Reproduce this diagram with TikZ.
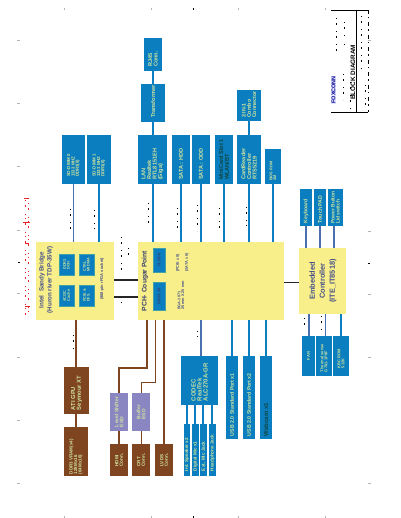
\documentclass[tikz,border=0pt]{standalone}
\usepackage{fontspec}
\setmainfont{Liberation Sans}
\definecolor{bblue}{HTML}{0A7EBF}
\definecolor{lblue}{HTML}{4A70B0}
\definecolor{yel}{HTML}{F8EF8A}
\definecolor{brn}{HTML}{7F4420}
\definecolor{prp}{HTML}{8A86C2}
\definecolor{ltxt}{HTML}{D0E4A0}
\definecolor{ytxt}{HTML}{EEDC86}
\definecolor{dtxt}{HTML}{10463F}
\definecolor{gtxt}{HTML}{454F8A}
\definecolor{tick}{HTML}{B4B4B4}
\definecolor{iedge}{HTML}{3FA0A8}
\definecolor{rednote}{HTML}{E8202A}
\tikzset{
  bbox/.style={fill=bblue},
  ibox/.style={fill=bblue,draw=iedge,line width=0.6pt},
  ybox/.style={fill=yel},
  brbox/.style={fill=brn},
  pbox/.style={fill=prp},
  rtxt/.style={inner sep=0pt,align=left,font=\bfseries\fontsize{#1}{#1}\selectfont,text=ltxt},
  rtxt/.default=5.6,
  bl/.style={bblue,line width=2pt},
  ll/.style={lblue,line width=2pt},
  tl/.style={lblue,line width=1pt},
  br/.style={brn,line width=2pt},
  brt/.style={brn,line width=1pt},
  bus/.style={black!85,line width=2pt},
  specks/.style={black,line width=0.8pt,dash pattern=on 1pt off 4pt on 2pt off 6pt},
  redspecks/.style={rednote,line width=0.9pt,dash pattern=on 1pt off 4pt on 2pt off 7pt on 1pt off 3pt},
  tk/.style={tick,line width=1pt},
}
\newcommand{\mkbox}[6]{\node[#1,inner sep=0pt,minimum width={#5-#3},minimum height={#6-#4}] (#2) at ({(#3+#5)/2},{(#4+#6)/2}) {};}
\newcommand{\rboxb}[8]{\mkbox{#1}{#2}{#3}{#4}{#5}{#6}\node[rtxt,#7,rotate=90,anchor=west] (#2t) at ([yshift=4pt]#2.south) {#8};}
\newcommand{\rboxc}[8]{\mkbox{#1}{#2}{#3}{#4}{#5}{#6}\node[rtxt,#7,rotate=90] (#2t) at (#2.center) {#8};}
\begin{document}
\begin{tikzpicture}[x=1pt,y=-1pt]
\useasboundingbox (0,0) rectangle (400,518);
\fill[white] (0,0) rectangle (400,518);
% page ticks
\foreach \t in {64,151,238,325}{\draw[tk] (\t,8) -- (\t,10); \draw[tk] (\t,515.5) -- (\t,517.5);}
\foreach \t in {41,104,167,230,293,357,420,483}{\draw[tk] (17,\t) -- (20,\t);}
\foreach \t in {41,231,294,357,483}{\draw[tk] (368,\t) -- (371,\t);}
\draw[black,line width=1pt] (193,8.5) -- (193,10) (193,515.5) -- (193,517.5) (17.5,262) -- (20,262) (368,263) -- (370,263);
% red margin note
\draw[redspecks] (25.5,200) -- (25.5,319);
\draw[redspecks] (28,203) -- (28,316);
\draw[rednote,line width=0.9pt] (24,198) -- (29,198) (23,222.5) -- (30,222.5) (25,243) -- (29,243) (25,306) -- (30,306);
% title block
\draw[black,line width=0.9pt] (331,10) -- (368,10) (356,10) -- (356,112) (331,112) -- (368,112);
\draw[black,line width=0.8pt,dash pattern=on 4pt off 3pt on 1.5pt off 4pt] (368,10) -- (368,112);
\draw[specks] (336,18) -- (336,56) (344,22) -- (344,36) (344,44) -- (344,48) (361,16) -- (361,70) (365,85) -- (365,110) (343,74) -- (343,100) (350,82) -- (350,110);
\node[inner sep=0.4pt,fill=blue!12,text=blue!55!black,font=\bfseries\fontsize{5.4}{5.4}\selectfont,rotate=90] (logo) at (333.5,90) {FOXCONN};
\node[inner sep=0pt,font=\bfseries\fontsize{6.4}{6.4}\selectfont,rotate=90,anchor=west] (ttl) at (353,100) {BLOCK DIAGRAM};
% top row
\rboxb{bbox}{rj}{144}{38}{162}{71}{}{RJ45\\Conn.}
\rboxb{bbox}{tr}{141}{84}{165}{122}{}{Transformer}
\rboxb{bbox}{lan}{138}{135}{167}{184}{}{LAN\\Realtek\\RTL8151EH\\(Giga)}
\rboxb{bbox}{hdd}{172}{135}{190}{184}{}{SATA : HDD}
\rboxb{bbox}{odd}{192}{135}{210}{184}{}{SATA : ODD}
\rboxb{bbox}{mini}{215}{135}{233}{184}{text=dtxt}{MiniCard Slot 1\\WLAN/BT}
\rboxb{bbox}{card}{237}{135}{261}{184}{}{CardReader\\Controller\\RTS5219}
\rboxb{bbox}{combo}{237}{90}{261}{121}{yshift=-1pt,rtxt=5.3}{2-IN-1\\Combo\\Connector}
\rboxb{bbox}{bios}{265}{149}{281}{184}{rtxt=3.8,yshift=-1pt}{BIOS ROM\\4M}
\rboxb{bbox}{so0}{62}{135}{85}{184}{rtxt=4.4,yshift=3pt}{SO-DIMM 0\\1333 MHZ\\DDR3(8)}
\rboxb{bbox}{so1}{87}{135}{111}{184}{rtxt=4.4,yshift=3pt}{SO-DIMM 1\\1333 MHZ\\DDR3(8)}
% yellow blocks
\mkbox{ybox}{nb}{36}{242}{114}{320}
\mkbox{ybox}{pch}{138}{242}{284}{320}
\mkbox{ybox}{ec}{299}{248}{346}{314}
\node[rtxt=6.2,text=gtxt,rotate=90,anchor=center] (nbt) at (46,280) {\fontsize{6.2}{8}\selectfont\begin{tabular}{@{}c@{}}Intel\ \ Sandy Bridge\\(Huron river TDP-35W)\end{tabular}};
\node[rtxt=4,text=gtxt,rotate=90] (nbs) at (102,279) {(988-pin rPGA socket)};
\rboxc{ibox}{ddr}{59}{254}{74}{275}{rtxt=3.8}{DDR3\\DCH}
\rboxc{ibox}{ctl}{79}{254}{94}{275}{rtxt=3.8}{CTRL\\MI DMA}
\rboxc{ibox}{cache}{59}{285}{74}{306}{rtxt=3.8}{4C/2C\\Cache}
\rboxc{ibox}{pcie}{79}{285}{94}{306}{rtxt=3.8}{PCIE \&\\DFS}
\node[rtxt=6.7,text=gtxt!80!black,rotate=90] (pcht) at (145,281) {PCH- Cougar Point};
\rboxc{ibox}{clk}{153}{248}{165}{272}{rtxt=3.8,text=gtxt!80!black}{CLOCK}
\rboxc{ibox}{disp}{153}{282}{165}{310}{rtxt=3.8,text=gtxt!80!black}{DISPLAY}
\node[rtxt=3.8,text=gtxt,rotate=90,anchor=west] (pcie8) at (178,272) {(PCIE x 8)};
\node[rtxt=3.8,text=gtxt,rotate=90,anchor=west] (sata6) at (187,272) {(SATA x 6)};
\node[rtxt=3.8,text=gtxt,rotate=90,anchor=west] (bga) at (181,310) {BGA-1071\\25 mm X 25 mm};
\node[inner sep=0pt,align=center,text=gtxt,font=\bfseries\fontsize{7.4}{10}\selectfont,rotate=90] (ect) at (323,281) {Embedded\\Controller\\(ITE\_IT8518)};
% right column
\rboxb{bbox}{kb}{300}{189}{312}{226}{rtxt=5.2,yshift=-1pt}{Keyboard}
\rboxb{bbox}{tp}{314}{189}{326}{226}{rtxt=5.2,yshift=-1pt}{Touch PAD}
\rboxb{bbox}{pwr}{328}{189}{343}{226}{rtxt=5,yshift=-2pt}{Power Button\\Lid switch}
\rboxc{bbox}{fan}{302}{336}{315}{376}{rtxt=4}{FAN}
\rboxb{bbox}{therm}{316}{336}{332}{376}{rtxt=4}{Thermal sense\\G781-1P8F}
\rboxb{bbox}{kbc}{333}{336}{349}{376}{rtxt=4,yshift=4pt}{KBC ROM\\512K}
% brown and purple
\rboxb{brbox}{gpu}{64}{367}{89}{414}{text=ytxt,rtxt=5.8}{\fontsize{5.8}{8}\selectfont ATI GPU\\Seymour XT}
\rboxb{brbox}{vram}{64}{427}{88}{476}{text=ytxt,rtxt=4.5,yshift=-2pt}{\fontsize{4.5}{6}\selectfont DDR3 VRAM(x4)\\128Mx16\\(64Mx16)}
\rboxc{pbox}{lvl}{110}{393}{128}{431}{text=ytxt!80!prp,rtxt=5}{Level Shifter\\ESD}
\rboxc{pbox}{buf}{132}{393}{150}{431}{text=ytxt!80!prp,rtxt=5}{Buffer\\ESD}
\rboxc{brbox}{hdmi}{110}{444}{128}{476}{text=ytxt,rtxt=4.6}{HDMI\\Conn.}
\rboxc{brbox}{crt}{132}{444}{150}{476}{text=ytxt,rtxt=4.6}{CRT\\Conn.}
\rboxc{brbox}{lvds}{155}{444}{173}{476}{text=ytxt,rtxt=4.6}{LVDS\\Conn.}
% audio and usb
\rboxb{bbox}{codec}{181}{356}{218}{405}{rtxt=6}{\fontsize{6}{7.2}\selectfont CODEC\\RealTek\\ALC270A-GR}
\rboxb{bbox}{spk}{184}{424}{190}{476}{rtxt=4.6,yshift=1pt}{Int. Speaker x2}
\rboxb{bbox}{dmic}{192}{424}{198.7}{476}{rtxt=4.6,yshift=1pt}{Digital Mic x1}
\rboxb{bbox}{emic}{200}{424}{206.7}{476}{rtxt=4.6,yshift=1pt}{Ext. Mic Jack}
\rboxb{bbox}{hp}{209}{424}{215.7}{476}{rtxt=4.6,yshift=1pt}{Headphone Jack}
\rboxb{bbox}{usba}{226}{356}{238}{439}{rtxt=5.2,yshift=-1pt}{USB 2.0 Standard Port x1}
\rboxb{bbox}{usbb}{243}{356}{255}{439}{rtxt=5.2,yshift=-1pt}{USB 2.0 Standard Port x2}
\rboxb{bbox}{cam}{260}{356}{272}{439}{rtxt=6,yshift=-1pt,text=dtxt}{Webcam x1}
% connectors
\draw[bl] (rj.south) -- (tr.north -| rj.south);
\draw[bl] (tr.south) -- (lan.north -| tr.south);
\draw[bl] (lan.south) -- (lan.south |- pch.north);
\draw[bl] (hdd.south) -- (hdd.south |- pch.north);
\draw[bl] (odd.south) -- (odd.south |- pch.north);
\draw[bl] (mini.south) -- (mini.south |- pch.north);
\draw[bl] (combo.south) -- (card.north);
\draw[bl] (card.south) -- (card.south |- pch.north);
\draw[bl,line width=1.6pt] (bios.south) -- (bios.south |- pch.north);
\draw[tl] ([xshift=-0.5pt]so0.south) -- ([xshift=-0.5pt]so0.south |- nb.north);
\draw[bl] (so1.south) -- (so1.south |- nb.north);
\coordinate (busa) at (nb.east |- 0,280);
\coordinate (busb) at (nb.east |- 0,296.5);
\draw[bus] (busa) -- (busa -| pch.west);
\draw[bus] (busb) -- (busb -| pch.west);
\coordinate (ecin) at (ec.west |- 0,282);
\draw[black!85,line width=1pt] (ecin) -- (ecin -| pch.east);
\draw[br] ([xshift=-0.5pt]gpu.north) -- ([xshift=-0.5pt]gpu.north |- nb.south);
\draw[br] ([xshift=-0.5pt]gpu.south) -- ([xshift=-0.5pt]gpu.south |- vram.north);
\coordinate (hdmiout) at (147,320);
\coordinate (crtout) at (155.5,320);
\draw[br] (hdmiout) -- ++(0,47.5) -| (lvl.north);
\draw[brt] (crtout) -- ++(0,62) -| (buf.north);
\draw[br] (lvl.south) -- (hdmi.north);
\draw[brt] (buf.south) -- (crt.north);
\draw[br] (lvds.north) -- (lvds.north |- pch.south);
\draw[ll] ([xshift=1.5pt]codec.north) -- ([xshift=1.5pt]codec.north |- pch.south);
\draw[bl] (usba.north) -- (usba.north |- pch.south);
\draw[bl] (usbb.north) -- (usbb.north |- pch.south);
\draw[bl] (cam.north) -- (cam.north |- pch.south);
\draw[bl] (spk.north) -- (spk.north |- codec.south);
\draw[bl] (dmic.north) -- (dmic.north |- codec.south);
\draw[bl] (emic.north) -- (emic.north |- codec.south);
\draw[bl] (hp.north) -- (hp.north |- codec.south);
\draw[ll] (kb.south) -- (kb.south |- ec.north);
\draw[ll] (tp.south) -- (tp.south |- ec.north);
\draw[ll] ([xshift=-1.5pt]pwr.south) -- ([xshift=-1.5pt]pwr.south |- ec.north);
\draw[ll] (fan.north) -- (fan.north |- ec.south);
\draw[tl] ([xshift=1pt]therm.north) -- ([xshift=1pt]therm.north |- ec.south);
\draw[bl] (kbc.north) -- (kbc.north |- ec.south);
% signal labels too small to read
\draw[specks] (70,209) -- (70,233) (94,210) -- (94,229) (148,203) -- (148,228) (177,208) -- (177,231) (197,205) -- (197,231) (219,208) -- (219,232) (246,207) -- (246,226) (121,237) -- (121,274) (128,248) -- (128,258) (121,302) -- (121,304) (73,335) -- (73,349) (197,331) -- (197,337) (304,318) -- (304,326) (321,316) -- (321,330);
\end{tikzpicture}
\end{document}
